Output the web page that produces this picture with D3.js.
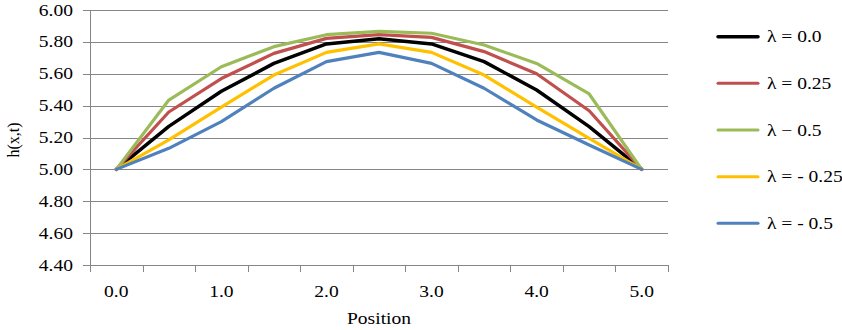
<!DOCTYPE html>
<html>
<head>
<meta charset="utf-8">
<script src="https://cdn.jsdelivr.net/npm/d3@7"></script>
<style>
  html, body { margin: 0; padding: 0; background: #fff; }
  svg { display: block; }
  text { font-family: "Liberation Serif", "Times New Roman", serif; fill: #000; }
</style>
</head>
<body>
<svg id="chart" width="842" height="330"></svg>
<script>
// ---- data ----
const categories = ["0.0","0.5","1.0","1.5","2.0","2.5","3.0","3.5","4.0","4.5","5.0"];
const lam00  = [5.00, 5.27, 5.49, 5.665, 5.787, 5.820, 5.787, 5.676, 5.498, 5.268, 5.00];
const lam025 = [5.00, 5.36, 5.57, 5.728, 5.822, 5.846, 5.828, 5.739, 5.600, 5.368, 5.00];
const lam05  = [5.00, 5.435, 5.644, 5.770, 5.845, 5.866, 5.854, 5.780, 5.665, 5.473, 5.00];
const lamM025 = [5.00, 5.185, 5.39, 5.592, 5.734, 5.787, 5.734, 5.592, 5.390, 5.195, 5.00];
const lamM05  = [5.00, 5.132, 5.30, 5.509, 5.676, 5.734, 5.665, 5.509, 5.310, 5.153, 5.00];
const seriesNames = ["λ = 0.0", "λ = 0.25", "λ − 0.5", "λ = - 0.25", "λ = - 0.5"];
const seriesColors = ["#000000", "#C0504D", "#9BBB59", "#FFC000", "#4F81BD"];
const yTicks = [4.40, 4.60, 4.80, 5.00, 5.20, 5.40, 5.60, 5.80, 6.00];
const xLabelEvery = 2;
const xTitle = "Position";
const yTitle = "h(x,t)";

(function () {
const series = [lam00, lam025, lam05, lamM025, lamM05].map((v, i) => ({
  name: seriesNames[i], color: seriesColors[i], values: v
}));

// ---- layout ----
const svg = d3.select("#chart");
const pLeft = 90, pRight = 668, pTop = 10, pBottom = 265;
const SX = 1.22;       // horizontal stretch of the original text
const fontSize = 16;
const gridColor = "#868686";

const x = d3.scaleBand().domain(categories).range([pLeft, pRight]).paddingInner(0).paddingOuter(0);
const xc = c => x(c) + x.bandwidth() / 2;
const y = d3.scaleLinear().domain([4.4, 6.0]).range([pBottom, pTop]);

function stretchedText(g, tx, ty, str, anchor, rotate) {
  const t = g.append("g")
    .attr("transform", `translate(${tx},${ty})` + (rotate ? ` rotate(${rotate})` : ` scale(${SX},1)`));
  t.append("text")
    .attr("text-anchor", anchor)
    .attr("font-size", fontSize)
    .text(str);
  return t;
}

// gridlines
svg.append("g").selectAll("line").data(yTicks).join("line")
  .attr("x1", pLeft).attr("x2", pRight)
  .attr("y1", d => Math.round(y(d)) + 0.5).attr("y2", d => Math.round(y(d)) + 0.5)
  .attr("stroke", gridColor).attr("stroke-width", 1);

// y axis line + ticks
const yAx = svg.append("g");
yAx.append("line").attr("x1", pLeft + 0.5).attr("x2", pLeft + 0.5)
  .attr("y1", pTop).attr("y2", pBottom + 1).attr("stroke", gridColor);
yAx.selectAll("line.t").data(yTicks).join("line").attr("class", "t")
  .attr("x1", pLeft - 7).attr("x2", pLeft)
  .attr("y1", d => Math.round(y(d)) + 0.5).attr("y2", d => Math.round(y(d)) + 0.5)
  .attr("stroke", gridColor);
yTicks.forEach(v => stretchedText(yAx, 73, y(v) + 5.5, v.toFixed(2), "end"));

// x axis ticks (between categories)
const xAx = svg.append("g");
const boundaries = categories.map(c => x(c)).concat([x(categories[categories.length - 1]) + x.bandwidth()]);
xAx.selectAll("line").data(boundaries).join("line")
  .attr("x1", d => Math.round(d) + 0.5).attr("x2", d => Math.round(d) + 0.5)
  .attr("y1", pBottom).attr("y2", pBottom + 7)
  .attr("stroke", gridColor);
categories.forEach((c, i) => {
  if (i % xLabelEvery === 0) stretchedText(xAx, xc(c), 297, c, "middle");
});

// titles
stretchedText(svg, (pLeft + pRight) / 2, 324, xTitle, "middle");
stretchedText(svg, 19, 140, yTitle, "middle", -90);

// lines
const line = d3.line().x((d, i) => xc(categories[i])).y(d => y(d));
svg.append("g").selectAll("path").data(series).join("path")
  .attr("d", d => line(d.values))
  .attr("fill", "none")
  .attr("stroke", d => d.color)
  .attr("stroke-width", (d, i) => i === 0 ? 3.5 : 3.2)
  .attr("stroke-linejoin", "round")
  .attr("stroke-linecap", "round");

// legend
const lg = svg.append("g");
const legY = d3.scalePoint().domain(seriesNames).range([36.7, 223.3]);
series.forEach((s, i) => {
  const yy = legY(s.name);
  lg.append("line").attr("x1", 718).attr("x2", 758).attr("y1", yy).attr("y2", yy)
    .attr("stroke", s.color).attr("stroke-width", i === 0 ? 3.5 : 3).attr("stroke-linecap", "round");
  stretchedText(lg, 767, yy + 5.5, s.name, "start");
});
})();
</script>
</body>
</html>
